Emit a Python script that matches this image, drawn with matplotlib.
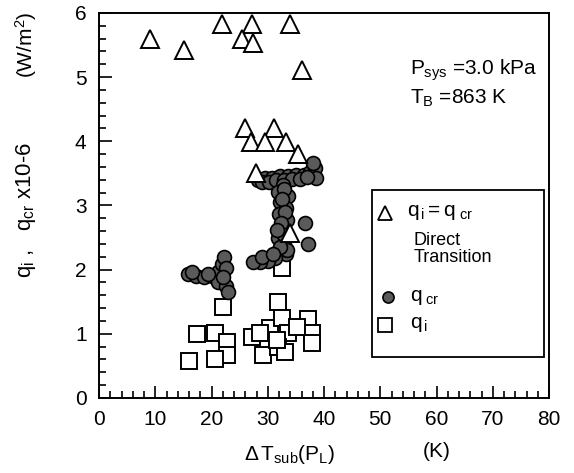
import matplotlib
matplotlib.use("Agg")
import matplotlib.pyplot as plt
from matplotlib.patches import Rectangle
from matplotlib.ticker import MultipleLocator

plt.rcParams["font.family"] = ["Liberation Sans", "DejaVu Sans"]
plt.rcParams["mathtext.fontset"] = "custom"
plt.rcParams["mathtext.rm"] = "Liberation Sans"
plt.rcParams["mathtext.it"] = "Liberation Sans"
plt.rcParams["mathtext.sf"] = "Liberation Sans"

# q_i = q_cr (direct transition)
direct_dt = [9.1, 15.1, 21.9, 27.2, 34.0, 25.4, 27.4, 36.1, 26.0, 31.1,
             27.0, 29.5, 33.2, 35.3, 27.9, 34.0]
direct_q = [5.59, 5.42, 5.83, 5.83, 5.83, 5.60, 5.53, 5.11, 4.20, 4.20,
            3.99, 3.99, 3.99, 3.80, 3.50, 2.57]

# q_cr
cr_dt = [28.3, 29.5, 30.8, 32.2, 33.6, 35.0, 36.4, 37.5, 38.4, 38.6, 38.0,
         29.0, 30.2, 31.5, 32.9, 34.3, 35.7, 37.0,
         32.7, 31.8, 33.6, 32.2, 33.2, 32.0, 33.4, 32.4, 33.1, 31.8, 32.9,
         32.0, 33.2, 31.3, 30.0, 28.6, 27.4, 33.4, 29.0,
         32.9, 32.6, 33.0, 32.3, 32.8, 32.1, 31.0, 31.6,
         36.6, 37.2,
         15.8, 17.2, 18.7, 20.1, 21.2, 21.9, 22.2, 22.6, 21.2, 22.6, 22.9,
         16.5, 19.4, 22.0]
cr_q = [3.40, 3.43, 3.43, 3.46, 3.46, 3.47, 3.47, 3.52, 3.58, 3.43, 3.66,
        3.36, 3.37, 3.40, 3.40, 3.41, 3.42, 3.44,
        3.32, 3.21, 3.15, 3.05, 2.96, 2.87, 2.77, 2.68, 2.59, 2.49, 2.40,
        2.31, 2.24, 2.18, 2.13, 2.12, 2.12, 2.30, 2.20,
        3.26, 3.10, 2.90, 2.72, 2.54, 2.36, 2.24, 2.62,
        2.73, 2.40,
        1.93, 1.90, 1.88, 1.90, 1.96, 2.09, 2.20, 2.02, 1.81, 1.74, 1.65,
        1.96, 1.93, 1.88]

# q_i
qi_dt = [32.5, 22.0, 31.8, 17.4, 20.6, 22.7, 22.7, 16.0, 20.6, 27.2, 30.4,
         32.5, 33.6, 37.2, 37.9, 37.9, 35.2, 29.2, 31.8, 33.1, 28.6, 31.6]
qi_q = [2.02, 1.42, 1.50, 1.00, 1.01, 0.87, 0.67, 0.58, 0.61, 0.95, 1.09,
        1.25, 1.01, 1.23, 1.01, 0.86, 1.11, 0.67, 0.79, 0.72, 1.01, 0.90]

fig = plt.figure(figsize=(5.74, 4.73), dpi=100)
ax = fig.add_axes([0.1725, 0.1586, 0.784, 0.814])

ax.plot(qi_dt, qi_q, ls="none", marker="s", ms=11, mfc="white", mec="black",
        mew=1.4)
ax.plot(cr_dt, cr_q, ls="none", marker="o", ms=10, mfc="#5a5a5a", mec="black",
        mew=1.2)
ax.plot(direct_dt, direct_q, ls="none", marker="^", ms=12.5, mfc="white",
        mec="black", mew=1.4)

ax.set_xlim(0, 80)
ax.set_ylim(0, 6)
ax.xaxis.set_major_locator(MultipleLocator(10))
ax.xaxis.set_minor_locator(MultipleLocator(2))
ax.yaxis.set_major_locator(MultipleLocator(1))
ax.yaxis.set_minor_locator(MultipleLocator(0.2))
ax.tick_params(which="both", direction="in", labelsize=15, width=1.2)
ax.tick_params(which="major", length=9, pad=9)
ax.tick_params(which="minor", length=5)
for s in ax.spines.values():
    s.set_linewidth(1.4)

# axis titles
fig.text(0.045, 0.556, r"$q_i$ ,   $q_{cr}$ x10-6", rotation=90, fontsize=16,
         ha="center", va="center")
fig.text(0.045, 0.905, r"(W/m$^2$)", rotation=90, fontsize=15,
         ha="center", va="center")
fig.text(0.505, 0.04, r"$\Delta\,T_{sub}(P_L)$", fontsize=15,
         ha="center", va="center")
fig.text(0.761, 0.045, "(K)", fontsize=15, ha="center", va="center")

ax.text(0.69, 0.84, r"$P_{sys}$ =3.0 kPa", transform=ax.transAxes,
        fontsize=15)
ax.text(0.69, 0.765, r"$T_B$ =863 K", transform=ax.transAxes, fontsize=15)

# legend box
ax.add_patch(Rectangle((0.607, 0.106), 0.382, 0.434, transform=ax.transAxes,
                       fill=False, edgecolor="black", lw=1.3))
ax.plot([0.636], [0.481], transform=ax.transAxes, marker="^", ms=10,
        mfc="white", mec="black", mew=1.3, ls="none")
ax.text(0.685, 0.481, r"$q_{\,i}= q_{\ cr}$", transform=ax.transAxes,
        fontsize=15, va="center")
ax.text(0.698, 0.41, "Direct", transform=ax.transAxes, fontsize=13,
        va="center")
ax.text(0.698, 0.366, "Transition", transform=ax.transAxes, fontsize=13,
        va="center")
ax.plot([0.642], [0.262], transform=ax.transAxes, marker="o", ms=8,
        mfc="#5a5a5a", mec="black", mew=1.2, ls="none")
ax.text(0.69, 0.262, r"$q_{\ cr}$", transform=ax.transAxes, fontsize=15,
        va="center")
ax.plot([0.636], [0.19], transform=ax.transAxes, marker="s", ms=10,
        mfc="white", mec="black", mew=1.3, ls="none")
ax.text(0.69, 0.19, r"$q_{\,i}$", transform=ax.transAxes, fontsize=15,
        va="center")

fig.savefig("out.png", dpi=100)
